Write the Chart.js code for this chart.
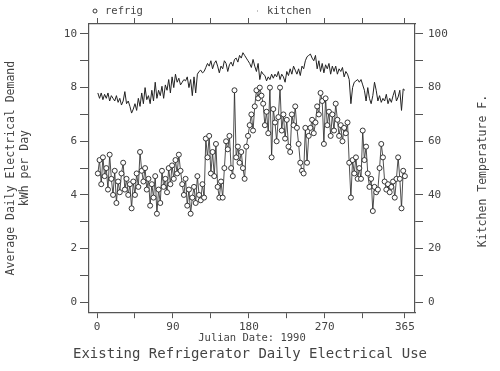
<!DOCTYPE html>
<html>
<head>
<meta charset="utf-8">
<script src="https://cdn.jsdelivr.net/npm/chart.js@4.4.1/dist/chart.umd.min.js"></script>
<style>
  html, body { margin: 0; padding: 0; background: #fff; }
  #chart { display: block; }
</style>
</head>
<body>
<canvas id="chart" width="500" height="371"></canvas>
<script>
// day of year for each reading (every other day, 1..365)
const firstDay = 1;
const dayStep = 2;

// average daily refrigerator demand, kWh per day
const refrig = [
  4.8, 5.3, 4.4, 5.4, 4.7, 5.0, 4.2, 5.5, 4.6, 4.0,
  4.9, 3.7, 4.5, 4.1, 4.8, 5.2, 4.2, 4.6, 4.0, 4.4,
  3.5, 4.5, 4.0, 4.8, 4.3, 5.6, 4.9, 4.5, 5.0, 4.2,
  4.6, 3.6, 4.4, 3.9, 4.7, 3.3, 4.2, 3.7, 4.9, 4.3,
  4.6, 4.1, 5.0, 4.4, 5.1, 4.6, 5.3, 4.8, 5.5, 4.9,
  4.4, 4.0, 4.6, 3.6, 4.2, 3.3, 3.9, 4.3, 3.7, 4.7,
  4.0, 3.8, 4.4, 3.9, 6.1, 5.4, 6.2, 4.8, 5.6, 4.7,
  5.9, 4.3, 3.9, 4.5, 3.9, 5.0, 6.0, 5.7, 6.2, 5.0,
  4.7, 7.9, 5.4, 5.8, 5.2, 5.6, 5.0, 4.6, 5.8, 6.2,
  6.6, 7.0, 6.4, 7.3, 7.9, 7.6, 8.0, 7.7, 7.4, 6.6,
  7.1, 6.3, 8.0, 5.4, 7.2, 6.7, 6.0, 6.9, 8.0, 6.4,
  7.0, 6.1, 6.8, 5.8, 5.6, 7.0, 6.6, 7.3, 6.5, 5.9,
  5.2, 4.9, 4.8, 6.5, 5.2, 6.2, 6.5, 6.8, 6.3, 6.7,
  7.3, 7.0, 7.8, 7.5, 5.9, 7.6, 6.6, 7.1, 6.2, 7.0,
  6.4, 7.4, 6.8, 6.2, 6.6, 6.0, 6.5, 6.3, 6.7, 5.2,
  3.9, 5.3, 4.8, 5.4, 4.6, 5.0, 4.6, 6.4, 5.3, 5.8,
  4.8, 4.3, 4.6, 3.4, 4.3, 4.1, 4.2, 5.0, 5.9, 5.4,
  4.5, 4.2, 4.4, 4.1, 4.3, 4.5, 3.9, 4.6, 5.4, 4.6,
  3.5, 4.9, 4.7
];

// kitchen temperature, deg F
const kitchen = [
  78, 76, 78, 75.5, 77.5, 76, 78, 75, 77, 76,
  75, 77, 74.5, 76, 73.5, 75, 78.5, 74, 75, 73,
  70.5, 72, 74, 71.5, 76, 73, 78, 74, 80, 75.5,
  77, 74, 79, 75, 82, 76, 79, 77, 80.5, 76,
  81, 79, 83, 78, 84, 80, 85, 82, 83.5, 81,
  82, 83, 82.5, 84, 80, 83, 77, 84, 78, 85,
  86, 86.5, 85.5, 86, 87.5, 89, 88, 90, 87, 89,
  90, 88, 85.5, 88, 87, 90, 89, 86, 88.5, 89.5,
  88, 90.5, 91, 89.5, 92, 91, 93, 92, 91, 90,
  89, 87.5, 90.5, 88, 86, 89, 83, 86, 85, 84.5,
  82.5, 84, 83, 85, 83.5, 85, 84, 86, 83, 85,
  84, 82, 86, 84.5, 87, 85, 88, 86.5, 85, 87,
  84.5, 88, 87, 90, 91.5, 92, 92.5, 91, 90, 92,
  87, 90, 86, 89, 85.5, 88.5, 87, 89, 85, 88,
  86, 88, 85, 87, 86, 87.5, 84, 86, 85, 83,
  74, 80, 82, 82.5, 83, 82, 83, 81, 79, 75,
  80, 76, 74, 77, 82, 79, 75, 77, 74.5, 76,
  75, 77.5, 74, 76, 74.5, 77, 79, 75, 76.5, 79,
  71.5, 79.5, 79
];

const xTicks = [0, 45, 90, 135, 180, 225, 270, 315, 365];
const xLabels = [0, 90, 180, 270, 365];
const yTicks = [0, 1, 2, 3, 4, 5, 6, 7, 8, 9, 10];
const y2Ticks = [0, 10, 20, 30, 40, 50, 60, 70, 80, 90, 100];

const textColor = '#444';
const axisColor = '#555';
const lineColor = '#222';
const fontFamily = '"DejaVu Sans Mono", monospace';

const days = refrig.map((_, i) => firstDay + i * dayStep);
const refrigPts = days.map((d, i) => ({ x: d, y: refrig[i] }));
const kitchenPts = days.map((d, i) => ({ x: d, y: kitchen[i] }));

// legend along the top and the right-hand title (reads bottom to top)
const extraText = {
  id: 'extraText',
  afterDraw(chart) {
    const ctx = chart.ctx;
    ctx.save();
    ctx.fillStyle = textColor;
    ctx.font = '10.5px ' + fontFamily;
    ctx.textBaseline = 'middle';
    ctx.textAlign = 'left';

    ctx.beginPath();
    ctx.arc(95, 11, 2, 0, Math.PI * 2);
    ctx.strokeStyle = lineColor;
    ctx.lineWidth = 0.9;
    ctx.stroke();
    ctx.fillText('refrig', 105, 11);

    ctx.fillStyle = '#888';
    ctx.fillRect(257, 10.5, 1, 1);
    ctx.fillStyle = textColor;
    ctx.fillText('kitchen', 267, 11);

    ctx.translate(483, 171);
    ctx.rotate(-Math.PI / 2);
    ctx.textAlign = 'center';
    ctx.font = '11.5px ' + fontFamily;
    ctx.fillText('Kitchen Temperature F.', 0, 0);
    ctx.restore();
  }
};

Chart.defaults.font.family = fontFamily;
Chart.defaults.color = textColor;

new Chart(document.getElementById('chart'), {
  type: 'line',
  data: {
    datasets: [
      {
        label: 'kitchen',
        data: kitchenPts,
        yAxisID: 'y2',
        borderColor: lineColor,
        borderWidth: 1,
        pointRadius: 0,
        tension: 0
      },
      {
        label: 'refrig',
        data: refrigPts,
        yAxisID: 'y',
        borderColor: lineColor,
        borderWidth: 0.8,
        pointRadius: 2.5,
        pointBackgroundColor: '#fff',
        pointBorderColor: lineColor,
        pointBorderWidth: 0.9,
        tension: 0
      }
    ]
  },
  options: {
    responsive: false,
    animation: false,
    devicePixelRatio: 1,
    layout: { padding: 0 },
    plugins: {
      legend: { display: false },
      tooltip: { enabled: false },
      title: {
        display: true,
        position: 'bottom',
        text: 'Existing Refrigerator Daily Electrical Use',
        color: textColor,
        font: { size: 14, weight: 'normal' },
        padding: { top: 0, bottom: 8 }
      }
    },
    scales: {
      x: {
        type: 'linear',
        position: 'bottom',
        min: -9.5,
        max: 377,
        afterBuildTicks: s => { s.ticks = xTicks.map(v => ({ value: v })); },
        afterFit: s => { s.height = 34; },
        ticks: {
          autoSkip: false,
          maxRotation: 0,
          padding: 2,
          font: { size: 11 },
          callback: v => xLabels.includes(v) ? String(v) : ''
        },
        grid: { drawOnChartArea: false, tickLength: 6, color: axisColor },
        border: { display: true, color: axisColor, width: 1.2 },
        title: {
          display: true,
          text: 'Julian Date: 1990',
          font: { size: 10.5 },
          padding: { top: 0, bottom: 2 }
        }
      },
      x2: {
        type: 'linear',
        position: 'top',
        min: -9.5,
        max: 377,
        afterBuildTicks: s => { s.ticks = xTicks.map(v => ({ value: v })); },
        afterFit: s => { s.height = 24; },
        ticks: { display: false },
        grid: { drawOnChartArea: false, tickLength: 6, color: axisColor },
        border: { display: true, color: axisColor, width: 1.2 }
      },
      y: {
        type: 'linear',
        position: 'left',
        min: -0.37,
        max: 10.37,
        afterBuildTicks: s => { s.ticks = yTicks.map(v => ({ value: v })); },
        afterFit: s => { s.width = 89; },
        ticks: {
          padding: 3,
          font: { size: 11 },
          callback: v => v % 2 === 0 ? String(v) : ''
        },
        grid: { drawOnChartArea: false, tickLength: 9, color: axisColor },
        border: { display: true, color: axisColor, width: 1.2 },
        title: {
          display: true,
          text: ['Average Daily Electrical Demand', 'kWh per Day'],
          font: { size: 11.5 },
          padding: { top: 4, bottom: 0 }
        }
      },
      y2: {
        type: 'linear',
        position: 'right',
        min: -3.7,
        max: 103.7,
        afterBuildTicks: s => { s.ticks = y2Ticks.map(v => ({ value: v })); },
        afterFit: s => { s.width = 85; },
        ticks: {
          padding: 5,
          font: { size: 11 },
          callback: v => v % 20 === 0 ? String(v) : ''
        },
        grid: { drawOnChartArea: false, tickLength: 8, color: axisColor },
        border: { display: true, color: axisColor, width: 1.2 }
      }
    }
  },
  plugins: [extraText]
});
</script>
</body>
</html>
